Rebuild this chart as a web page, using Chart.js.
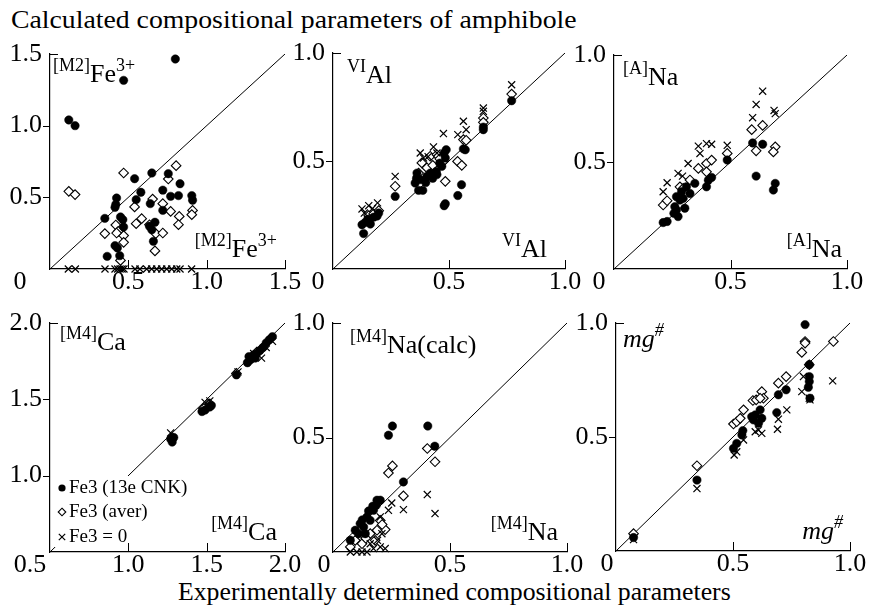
<!DOCTYPE html>
<html><head><meta charset="utf-8">
<script src="https://cdn.jsdelivr.net/npm/chart.js@4/dist/chart.umd.min.js"></script>
<style>
body{margin:0;background:#fff;width:870px;height:612px;position:relative;overflow:hidden;font-family:"Liberation Serif","Times New Roman",serif;color:#000;}
canvas{position:absolute;}
#title{position:absolute;left:11px;top:7px;font-size:25px;line-height:25px;transform:scaleX(1.11);transform-origin:0 0;white-space:nowrap;}
#xtitle{position:absolute;left:178px;top:579px;font-size:25px;line-height:25px;transform:scaleX(1.03);transform-origin:0 0;white-space:nowrap;}
</style></head>
<body>
<div id="title">Calculated compositional parameters of amphibole</div>
<div id="xtitle">Experimentally determined compositional parameters</div>
<canvas id="c0"></canvas><canvas id="c1"></canvas><canvas id="c2"></canvas>
<canvas id="c3"></canvas><canvas id="c4"></canvas><canvas id="c5"></canvas>
<script>
// ---------- DATA ----------
const seriesNames = ['Fe3 (13e CNK)', 'Fe3 (aver)', 'Fe3 = 0'];

// axis ranges and tick labels per panel
const axisMin = [0, 0, 0, 0.5, 0, 0];
const axisMax = [1.5, 1, 1, 2, 1, 1];
const tickValues = [[0,0.5,1,1.5],[0,0.5,1],[0,0.5,1],[0.5,1,1.5,2],[0,0.5,1],[0,0.5,1]];
const tickLabels = [['0','0.5','1.0','1.5'],['0','0.5','1.0'],['0','0.5','1.0'],['0.5','1.0','1.5','2.0'],['0','0.5','1.0'],['0','0.5','1.0']];

// panel labels: [text, isSuperscript, isItalic]
const labelsTop = [
  [['[M2]',1,0],['Fe',0,0],['3+',1,0]],
  [['VI',1,0],['Al',0,0]],
  [['[A]',1,0],['Na',0,0]],
  [['[M4]',1,0],['Ca',0,0]],
  [['[M4]',1,0],['Na(calc)',0,0]],
  [['mg',0,1],['#',1,1]]
];
const labelsBottom = [
  [['[M2]',1,0],['Fe',0,0],['3+',1,0]],
  [['VI',1,0],['Al',0,0]],
  [['[A]',1,0],['Na',0,0]],
  [['[M4]',1,0],['Ca',0,0]],
  [['[M4]',1,0],['Na',0,0]],
  [['mg',0,1],['#',1,1]]
];

// Panel 1: [M2]Fe3+
const p1Cnk = [[0.80,1.465],[0.47,1.316],[0.12,1.04],[0.16,1.00],[0.54,0.63],[0.65,0.67],[0.755,0.665],[0.58,0.535],[0.55,0.484],[0.72,0.55],[0.83,0.595],[0.77,0.507],[0.82,0.512],[0.905,0.512],[0.91,0.48],[0.425,0.495],[0.42,0.45],[0.415,0.43],[0.35,0.353],[0.45,0.363],[0.465,0.344],[0.47,0.293],[0.64,0.456],[0.635,0.298],[0.65,0.274],[0.67,0.326],[0.72,0.409],[0.66,0.193],[0.415,0.163],[0.43,0.147],[0.365,0.088],[0.445,0.093]];
const p1Aver = [[0.12,0.542],[0.16,0.519],[0.47,0.67],[0.805,0.721],[0.755,0.628],[0.655,0.488],[0.54,0.433],[0.72,0.456],[0.77,0.402],[0.825,0.367],[0.91,0.409],[0.905,0.379],[0.35,0.247],[0.42,0.307],[0.435,0.263],[0.47,0.233],[0.47,0.186],[0.55,0.316],[0.585,0.351],[0.635,0.309],[0.675,0.247],[0.72,0.251],[0.82,0.309],[0.67,0.126],[0.45,0.060],[0.425,0.251]];
const p1Zero = [[0.117,0],[0.162,0],[0.351,0],[0.415,0],[0.432,0],[0.447,0],[0.46,0],[0.472,0],[0.543,0],[0.574,0],[0.617,0],[0.649,0],[0.681,0],[0.713,0],[0.745,0],[0.777,0],[0.809,0],[0.830,0],[0.904,0]];

// Panel 2: VIAl
const p2Cnk = [[0.132,0.164],[0.125,0.205],[0.139,0.216],[0.161,0.208],[0.15,0.23],[0.175,0.24],[0.197,0.259],[0.19,0.245],[0.268,0.336],[0.369,0.364],[0.387,0.364],[0.354,0.398],[0.376,0.414],[0.405,0.429],[0.448,0.437],[0.445,0.452],[0.469,0.475],[0.484,0.514],[0.488,0.552],[0.479,0.537],[0.362,0.444],[0.419,0.444],[0.36,0.42],[0.40,0.40],[0.43,0.42],[0.46,0.49],[0.484,0.302],[0.479,0.293],[0.538,0.340],[0.554,0.390],[0.562,0.556],[0.570,0.552],[0.648,0.645],[0.648,0.657],[0.770,0.779]];
const p2Aver = [[0.154,0.247],[0.175,0.255],[0.197,0.27],[0.268,0.383],[0.383,0.491],[0.419,0.522],[0.448,0.529],[0.476,0.498],[0.484,0.406],[0.537,0.498],[0.555,0.480],[0.562,0.599],[0.574,0.596],[0.648,0.699],[0.648,0.679],[0.770,0.810],[0.369,0.444],[0.405,0.468],[0.43,0.48],[0.46,0.51]];
const p2Zero = [[0.125,0.278],[0.154,0.293],[0.192,0.306],[0.135,0.259],[0.17,0.28],[0.268,0.429],[0.476,0.627],[0.376,0.537],[0.433,0.565],[0.390,0.514],[0.448,0.537],[0.41,0.52],[0.538,0.622],[0.562,0.684],[0.574,0.645],[0.648,0.745],[0.648,0.730],[0.770,0.853]];

// Panel 3: [A]Na
const p3Cnk = [[0.211,0.217],[0.228,0.222],[0.257,0.26],[0.261,0.291],[0.268,0.338],[0.275,0.245],[0.283,0.322],[0.304,0.284],[0.29,0.361],[0.311,0.384],[0.326,0.353],[0.347,0.40],[0.397,0.384],[0.405,0.415],[0.419,0.428],[0.486,0.509],[0.595,0.589],[0.638,0.583],[0.61,0.434],[0.692,0.40],[0.684,0.369],[0.268,0.276],[0.297,0.33]];
const p3Aver = [[0.211,0.299],[0.228,0.319],[0.283,0.384],[0.326,0.416],[0.362,0.47],[0.397,0.493],[0.419,0.509],[0.397,0.454],[0.486,0.54],[0.591,0.651],[0.638,0.671],[0.61,0.552],[0.692,0.571],[0.684,0.547],[0.297,0.377]];
const p3Zero = [[0.211,0.361],[0.228,0.403],[0.275,0.447],[0.318,0.493],[0.362,0.574],[0.397,0.586],[0.419,0.583],[0.486,0.578],[0.595,0.707],[0.61,0.769],[0.638,0.831],[0.687,0.741],[0.692,0.726],[0.294,0.434],[0.369,0.54]];

// Panel 4: [M4]Ca
const p4Cnk = [[1.27,1.24],[1.28,1.22],[1.29,1.25],[1.47,1.42],[1.49,1.43],[1.52,1.45],[1.53,1.46],[1.69,1.66],[1.76,1.74],[1.77,1.78],[1.78,1.76],[1.80,1.79],[1.81,1.77],[1.82,1.80],[1.84,1.82],[1.86,1.84],[1.88,1.87],[1.90,1.89],[1.92,1.91]];
const p4Aver = [[1.28,1.25],[1.48,1.44],[1.52,1.47],[1.69,1.67],[1.77,1.75],[1.82,1.81],[1.85,1.83],[1.87,1.85],[1.91,1.90]];
const p4Zero = [[1.27,1.28],[1.49,1.48],[1.52,1.49],[1.70,1.68],[1.80,1.80],[1.85,1.77],[1.88,1.84],[1.92,1.88]];

// Panel 5: [M4]Na
const p5Cnk = [[0.237,0.51],[0.254,0.55],[0.405,0.55],[0.435,0.462],[0.301,0.306],[0.202,0.226],[0.185,0.204],[0.152,0.179],[0.145,0.153],[0.116,0.124],[0.095,0.095],[0.074,0.051],[0.173,0.182],[0.159,0.138],[0.131,0.109],[0.138,0.08],[0.188,0.226],[0.109,0.08],[0.17,0.2],[0.125,0.14]];
const p5Aver = [[0.403,0.452],[0.436,0.394],[0.237,0.345],[0.254,0.376],[0.301,0.245],[0.223,0.098],[0.202,0.138],[0.188,0.095],[0.159,0.08],[0.074,0.022],[0.095,0.051],[0.124,0.036],[0.18,0.051],[0.21,0.12],[0.14,0.06]];
const p5Zero = [[0.403,0.251],[0.436,0.168],[0.301,0.185],[0.251,0.214],[0.237,0.182],[0.202,0.153],[0.074,0.0],[0.102,0.0],[0.124,0.0],[0.145,0.0],[0.173,0.015],[0.202,0.022],[0.223,0.015],[0.19,0.051],[0.159,0.036],[0.209,0.08]];

// Panel 6: mg#
const p6Cnk = [[0.075,0.059],[0.346,0.311],[0.502,0.45],[0.516,0.472],[0.538,0.509],[0.542,0.528],[0.587,0.575],[0.595,0.597],[0.616,0.619],[0.623,0.582],[0.687,0.607],[0.694,0.685],[0.727,0.707],[0.808,0.993],[0.826,0.817],[0.826,0.765],[0.826,0.743],[0.822,0.718],[0.829,0.67],[0.609,0.56],[0.58,0.589]];
const p6Aver = [[0.075,0.076],[0.346,0.374],[0.502,0.557],[0.516,0.567],[0.531,0.582],[0.545,0.619],[0.585,0.66],[0.599,0.663],[0.623,0.699],[0.63,0.67],[0.694,0.736],[0.727,0.765],[0.794,0.871],[0.808,0.919],[0.808,0.912],[0.826,0.817],[0.929,0.919],[0.616,0.67]];
const p6Zero = [[0.075,0.05],[0.346,0.274],[0.505,0.421],[0.516,0.435],[0.545,0.487],[0.595,0.523],[0.623,0.516],[0.609,0.531],[0.69,0.534],[0.694,0.578],[0.73,0.619],[0.794,0.699],[0.826,0.67],[0.829,0.663],[0.926,0.746],[0.801,0.765]];

const panelCnk = [p1Cnk, p2Cnk, p3Cnk, p4Cnk, p5Cnk, p6Cnk];
const panelAver = [p1Aver, p2Aver, p3Aver, p4Aver, p5Aver, p6Aver];
const panelZero = [p1Zero, p2Zero, p3Zero, p4Zero, p5Zero, p6Zero];

// ---------- LAYOUT / STYLE ----------
const FONT = '"Liberation Serif","Times New Roman",serif';
const YW = 50, XH = 44, PT = 22, PR = 26;
const panelStyle = [
  {area:[50,54,285,269],  minDx:-30, tl:[3,28],  br:[-8,-12]},
  {area:[333,53,565,269], minDx:-15, tl:[14,30], br:[-18,-12]},
  {area:[614,55,847,269], minDx:-15, tl:[9,30],  br:[-5,-12]},
  {area:[50,323,285,552], minDx:-20, tl:[10,27], br:[-8,-12], legend:true},
  {area:[333,323,567,552],minDx:-9,  tl:[17,30], br:[-9,-12]},
  {area:[616,323,850,551],minDx:-9,  tl:[7,24],  br:[-7,-12]}
];

function partFont(p){ return (p[2] ? 'italic ' : '') + (p[1] ? '18px ' : '26px ') + FONT; }
function drawRich(ctx, parts, x, y, align){
  let w = 0;
  parts.forEach(p => { ctx.font = partFont(p); w += ctx.measureText(p[0]).width; });
  let cx = align === 'right' ? x - w : x;
  ctx.textAlign = 'left'; ctx.textBaseline = 'alphabetic';
  parts.forEach(p => { ctx.font = partFont(p); ctx.fillText(p[0], cx, p[1] ? y - 11 : y); cx += ctx.measureText(p[0]).width; });
}

const deco = {
  id: 'deco',
  afterDatasetsDraw(chart, args, o){
    const ctx = chart.ctx, a = chart.chartArea;
    ctx.save();
    ctx.fillStyle = '#000';
    if (o.legend) {
      const bx = a.left + 5, by = a.bottom - 76;
      ctx.fillStyle = '#fff';
      ctx.fillRect(bx, by, 138, 71);
      ctx.fillStyle = '#000'; ctx.strokeStyle = '#000';
      const rows = [a.bottom - 64, a.bottom - 40, a.bottom - 15];
      const mx = a.left + 12;
      ctx.beginPath(); ctx.arc(mx, rows[0], 3.6, 0, Math.PI*2); ctx.fill();
      ctx.lineWidth = 1.1;
      ctx.beginPath(); ctx.moveTo(mx, rows[1]-3.8); ctx.lineTo(mx+3.8, rows[1]); ctx.lineTo(mx, rows[1]+3.8); ctx.lineTo(mx-3.8, rows[1]); ctx.closePath(); ctx.stroke();
      ctx.lineWidth = 1.2;
      ctx.beginPath(); ctx.moveTo(mx-3.2, rows[2]-3.2); ctx.lineTo(mx+3.2, rows[2]+3.2); ctx.moveTo(mx+3.2, rows[2]-3.2); ctx.lineTo(mx-3.2, rows[2]+3.2); ctx.stroke();
      ctx.font = '19px ' + FONT; ctx.textAlign = 'left'; ctx.textBaseline = 'middle';
      const names = chart.data.datasets.slice(0,3).map(d => d.label);
      names.forEach((n,i) => ctx.fillText(n, a.left + 19, rows[i]));
    }
    ctx.fillStyle = '#000';
    drawRich(ctx, o.top, a.left + o.tl[0], a.top + o.tl[1], 'left');
    drawRich(ctx, o.bottom, a.right + o.br[0], a.bottom + o.br[1], 'right');
    ctx.restore();
  },
  afterDraw(chart, args, o){
    const ctx = chart.ctx, a = chart.chartArea, xs = chart.scales.x, ys = chart.scales.y;
    ctx.save();
    ctx.strokeStyle = '#000'; ctx.lineWidth = 1;
    ctx.beginPath();
    xs.ticks.forEach(t => {
      if (t.value > xs.min) { const px = Math.round(xs.getPixelForValue(t.value)) + 0.5; ctx.moveTo(px, a.bottom); ctx.lineTo(px, a.bottom - 9); }
    });
    ys.ticks.forEach(t => {
      const py = Math.round(ys.getPixelForValue(t.value)) + 0.5;
      if (t.value > ys.min && t.value < ys.max) { ctx.moveTo(a.left, py); ctx.lineTo(a.left - 7, py); }
      else if (t.value === ys.max) { ctx.moveTo(a.left, py); ctx.lineTo(a.left + 8, py); }
    });
    ctx.stroke();
    const items = xs.getLabelItems();
    const it = items[0];
    ctx.fillStyle = '#000';
    ctx.font = '26px ' + FONT;
    ctx.textAlign = 'center';
    ctx.textBaseline = it.options.textBaseline || 'middle';
    ctx.fillText(o.minLabel, a.left + o.minDx, it.options.translation[1] + (it.textOffset || 0));
    ctx.restore();
  }
};

for (let i = 0; i < 6; i++) {
  const st = panelStyle[i];
  const [l, t, r, b] = st.area;
  const cv = document.getElementById('c' + i);
  const W = (r - l) + YW + PR, H = (b - t) + PT + XH;
  cv.width = W; cv.height = H;
  cv.style.width = W + 'px'; cv.style.height = H + 'px';
  cv.style.left = (l - YW) + 'px'; cv.style.top = (t - PT) + 'px';
  const tv = tickValues[i], tl = tickLabels[i];
  const mkScale = (isX) => ({
    type: 'linear', min: axisMin[i], max: axisMax[i],
    afterFit: s => { if (isX) s.height = XH; else s.width = YW; },
    afterBuildTicks: s => { s.ticks = tv.map(v => ({value: v})); },
    grid: {display: false, drawTicks: false},
    border: {display: true, color: '#000', width: 1.2},
    ticks: {
      callback: (v, idx) => idx === 0 ? '' : tl[idx],
      font: {family: FONT, size: 26, lineHeight: 1},
      color: '#000', padding: isX ? 0 : 8, maxRotation: 0, autoSkip: false
    }
  });
  new Chart(cv, {
    type: 'scatter',
    data: {datasets: [
      {label: seriesNames[0], data: panelCnk[i], pointStyle: 'circle', pointRadius: 4.2, pointBackgroundColor: '#000', pointBorderColor: '#000', pointBorderWidth: 0.5, order: 1, clip: false},
      {label: seriesNames[1], data: panelAver[i], pointStyle: 'rectRot', pointRadius: 4.8, pointBackgroundColor: '#fff', pointBorderColor: '#000', pointBorderWidth: 1.1, order: 2, clip: false},
      {label: seriesNames[2], data: panelZero[i], pointStyle: 'crossRot', pointRadius: 5, pointBorderColor: '#000', pointBorderWidth: 1.2, order: 0, clip: false},
      {label: '1:1', type: 'line', data: [[axisMin[i], axisMin[i]], [axisMax[i], axisMax[i]]], borderColor: '#000', borderWidth: 1, pointRadius: 0, fill: false, order: 3}
    ]},
    options: {
      responsive: false, animation: false, events: [],
      layout: {padding: {top: PT, right: PR, left: 0, bottom: 0}},
      plugins: {
        legend: {display: false}, tooltip: {enabled: false},
        deco: {top: labelsTop[i], bottom: labelsBottom[i], tl: st.tl, br: st.br, minDx: st.minDx, minLabel: tl[0], legend: !!st.legend}
      },
      scales: {x: mkScale(true), y: mkScale(false)}
    },
    plugins: [deco]
  });
}
</script>
</body></html>
